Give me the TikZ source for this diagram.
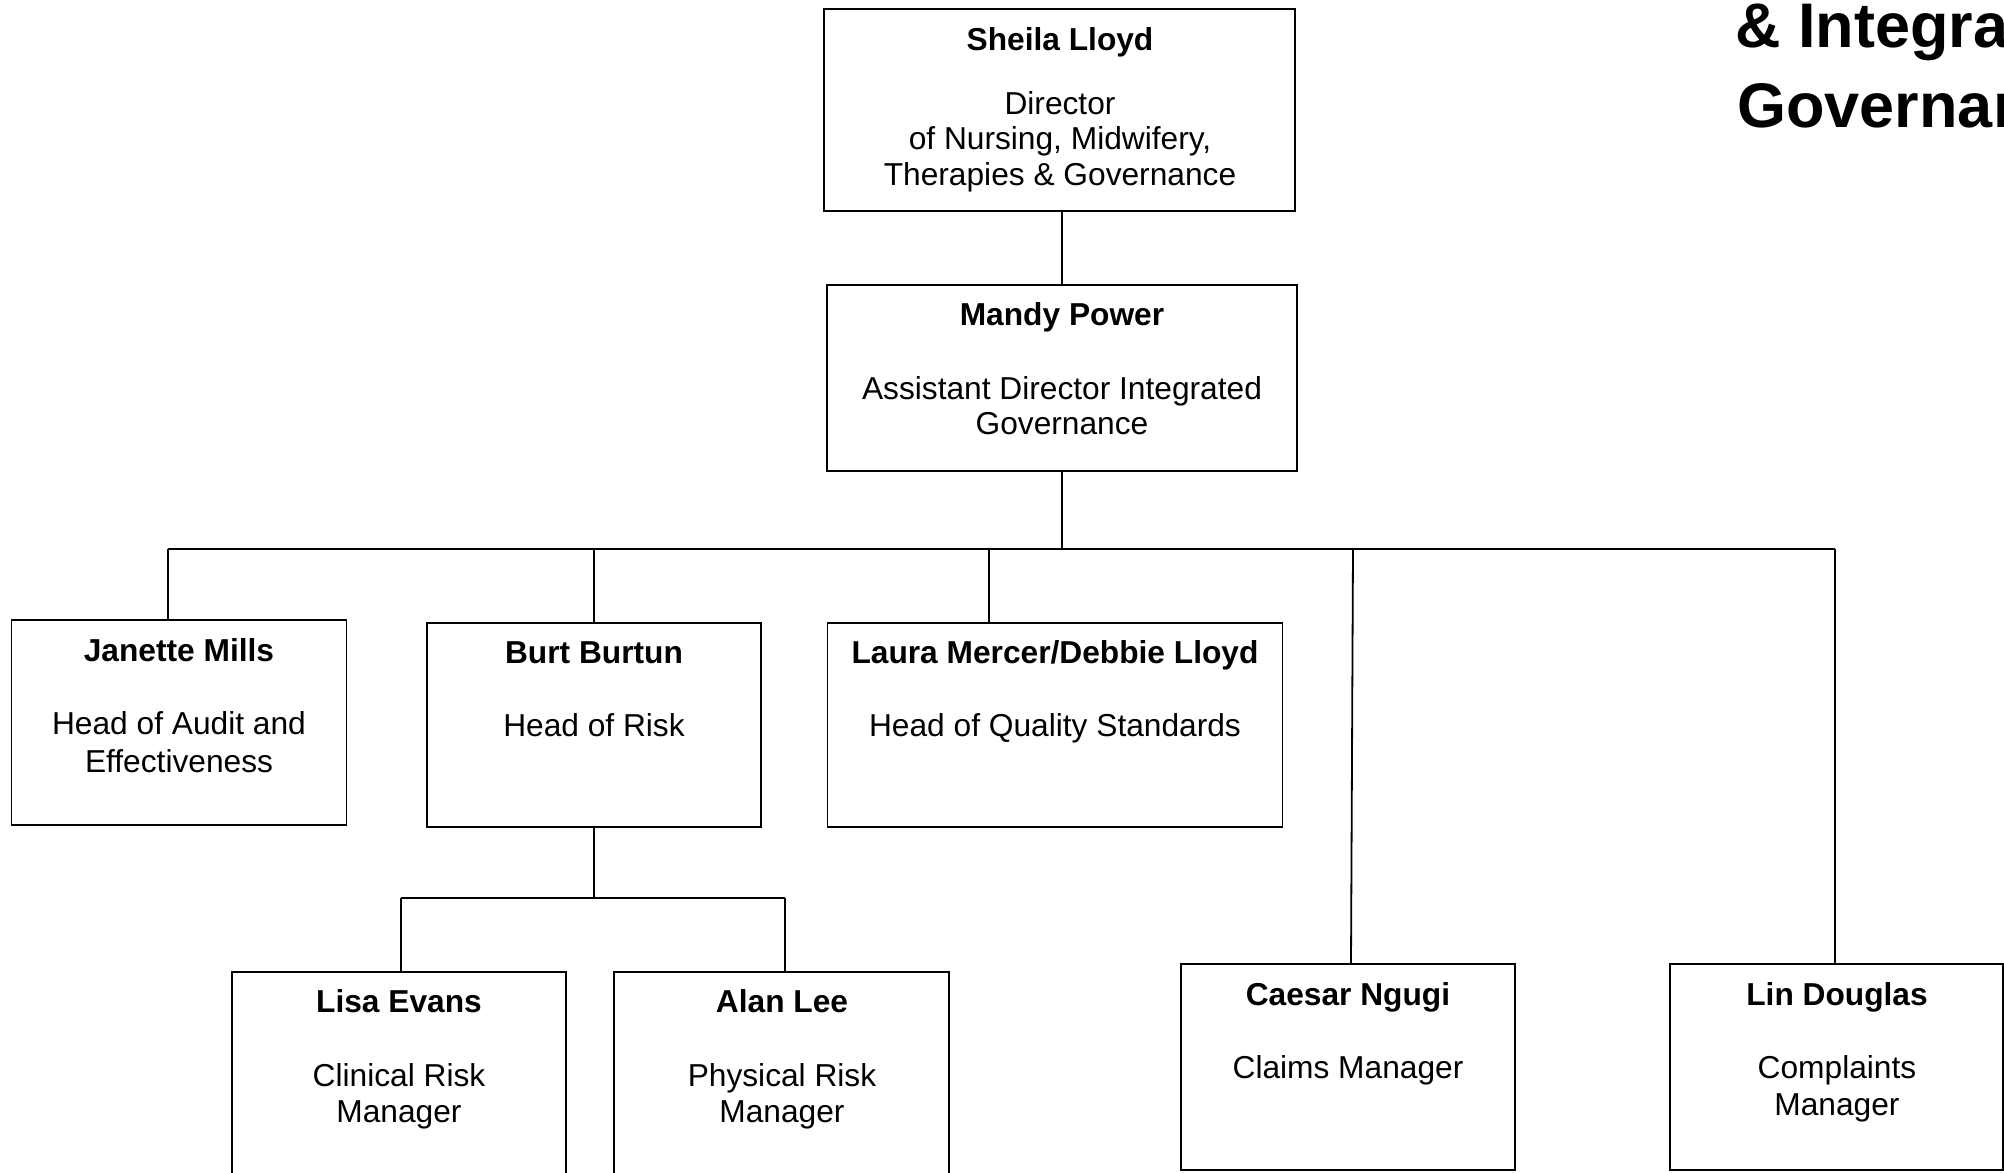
\documentclass[tikz,border=0pt]{standalone}
\usepackage{fontspec}
\setmainfont{Liberation Sans}
\begin{document}
\begin{tikzpicture}[x=0.5pt,y=-0.5pt,
  box/.style 2 args={draw, line width=0.9pt, inner sep=0pt, minimum width=#1, minimum height=#2},
  conn/.style={line width=0.9pt},
  nm/.style={font=\bfseries\fontsize{15.85}{19}\selectfont, anchor=base, inner sep=0pt},
  rl/.style={font=\fontsize{15.85}{19}\selectfont, anchor=base, inner sep=0pt},
  ttl/.style={font=\bfseries\fontsize{31.5}{38}\selectfont, anchor=base west, inner sep=0pt}]
\useasboundingbox (0,0) rectangle (2004,1173);
\clip (0,0) rectangle (2004,1173);

% title
\node[ttl] (t1) at (1735,47) {\& Integra};
\node[ttl] (t2) at (1737,127) {Governan};

% boxes
\node[box={235.5pt}{101pt}] (Sheila) at (1059.5,110) {};
\node[box={235pt}{93pt}] (Mandy) at (1062,378) {};
\node[box={167.5pt}{102.5pt}] (Janette) at (179,722.5) {};
\node[box={167pt}{102pt}] (Burt) at (594,725) {};
\node[box={227.5pt}{102pt}] (Laura) at (1055,725) {};
\node[box={167pt}{119pt}] (Lisa) at (399,1091) {};
\node[box={167.5pt}{119pt}] (Alan) at (781.5,1091) {};
\node[box={167pt}{103pt}] (Caesar) at (1348,1067) {};
\node[box={166.5pt}{103pt}] (Lin) at (1836.5,1067) {};

% texts
\node[nm] (sN) at (1060,50) {Sheila Lloyd};
\node[rl] (sR1) at (1060,114) {Director};
\node[rl] (sR2) at (1060,149) {of Nursing, Midwifery,};
\node[rl] (sR3) at (1060,185) {Therapies \& Governance};

\node[nm] (mN) at (1062,325) {Mandy Power};
\node[rl] (mR1) at (1062,399) {Assistant Director Integrated};
\node[rl] (mR2) at (1062,434) {Governance};

\node[nm] (jN) at (179,661) {Janette Mills};
\node[rl] (jR1) at (179,734) {Head of Audit and};
\node[rl] (jR2) at (179,772) {Effectiveness};

\node[nm] (bN) at (594,663) {Burt Burtun};
\node[rl] (bR1) at (594,736) {Head of Risk};

\node[nm] (lN) at (1055,663) {Laura Mercer/Debbie Lloyd};
\node[rl] (lR1) at (1055,736) {Head of Quality Standards};

\node[nm] (eN) at (399,1012) {Lisa Evans};
\node[rl] (eR1) at (399,1086) {Clinical Risk};
\node[rl] (eR2) at (399,1122) {Manager};

\node[nm] (aN) at (782,1012) {Alan Lee};
\node[rl] (aR1) at (782,1086) {Physical Risk};
\node[rl] (aR2) at (782,1122) {Manager};

\node[nm] (cN) at (1348,1005) {Caesar Ngugi};
\node[rl] (cR1) at (1348,1078) {Claims Manager};

\node[nm] (dN) at (1837,1005) {Lin Douglas};
\node[rl] (dR1) at (1837,1078) {Complaints};
\node[rl] (dR2) at (1837,1115) {Manager};

% connectors
\coordinate (busL) at (168,549);
\coordinate (busR) at (1835,549);
\coordinate (dL) at (989,549);
\coordinate (dC) at (1353,549);
\coordinate (cTop) at (1351,964);
\coordinate (subL) at (401,898);
\coordinate (subR) at (785,898);

\draw[conn] (Mandy.north |- Sheila.south) -- (Mandy.north);
\draw[conn] (Mandy.south) -- (Mandy.south |- busL);
\draw[conn] (busL) -- (busR);
\draw[conn] (busL) -- (busL |- Janette.north);
\draw[conn] (Burt.north |- busL) -- (Burt.north);
\draw[conn] (dL) -- (dL |- Laura.north);
\draw[conn] (dC) -- (cTop);
\draw[conn] (busR) -- (busR |- Lin.north);
\draw[conn] (Burt.south) -- (Burt.south |- subL);
\draw[conn] (subL) -- (subR);
\draw[conn] (subL) -- (subL |- Lisa.north);
\draw[conn] (subR) -- (subR |- Alan.north);
\end{tikzpicture}
\end{document}
